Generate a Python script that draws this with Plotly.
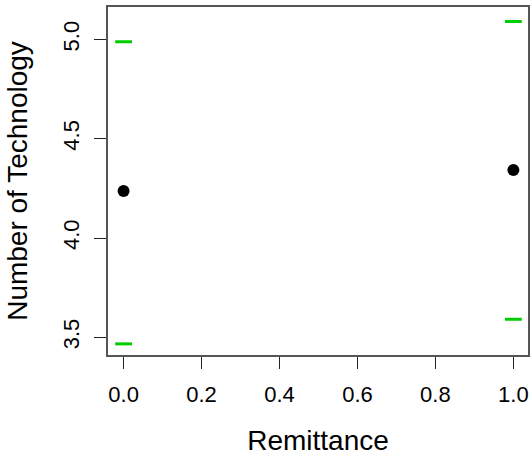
import plotly.graph_objects as go

remittance = [0, 1]
mean_tech = [4.237, 4.342]
upper_ci = [4.988, 5.09]
lower_ci = [3.467, 3.591]
x_ticks = [0.0, 0.2, 0.4, 0.6, 0.8, 1.0]
y_ticks = [3.5, 4.0, 4.5, 5.0]

font_family = "Liberation Sans, Arial, sans-serif"

fig = go.Figure()
fig.add_trace(go.Scatter(
    x=remittance + remittance, y=upper_ci + lower_ci, mode="markers",
    marker=dict(symbol="line-ew", size=12, line=dict(width=3, color="#00CC00"), color="#00CC00"),
    showlegend=False, hoverinfo="skip"))
fig.add_trace(go.Scatter(
    x=remittance, y=mean_tech, mode="markers",
    marker=dict(symbol="circle", size=12, color="black"),
    showlegend=False))

fig.update_layout(
    width=532, height=462,
    margin=dict(l=108, r=2, t=7, b=107),
    paper_bgcolor="white", plot_bgcolor="white",
    font=dict(family=font_family, color="black"),
    xaxis=dict(
        range=[-0.04, 1.0375], tickvals=x_ticks, tickformat=".1f",
        showgrid=False, zeroline=False,
        showline=True, mirror=True, linecolor="#555555", linewidth=1.5,
        ticks="outside", ticklen=12, tickcolor="#222222", tickwidth=1.2,
        tickfont=dict(size=22, family=font_family),
        ticklabelstandoff=7,
        title=dict(text="Remittance", font=dict(size=28, family=font_family), standoff=24),
    ),
    yaxis=dict(
        range=[3.411, 5.163], tickvals=y_ticks, tickformat=".1f",
        showgrid=False, zeroline=False,
        showline=True, mirror=True, linecolor="#555555", linewidth=1.5,
        ticks="outside", ticklen=12, tickcolor="#222222", tickwidth=1.2,
        tickangle=-90,
        tickfont=dict(size=22, family=font_family),
        ticklabelstandoff=6,
        title=dict(text="Number of Technology", font=dict(size=28, family=font_family), standoff=24),
    ),
)

fig.write_html("out.html", config={"displayModeBar": False})

with open("out.html", "r", encoding="utf-8") as f:
    html = f.read()
html = html.replace("<head>", "<head><style>html,body{margin:0;padding:0;overflow:hidden;}</style>", 1)
with open("out.html", "w", encoding="utf-8") as f:
    f.write(html)
